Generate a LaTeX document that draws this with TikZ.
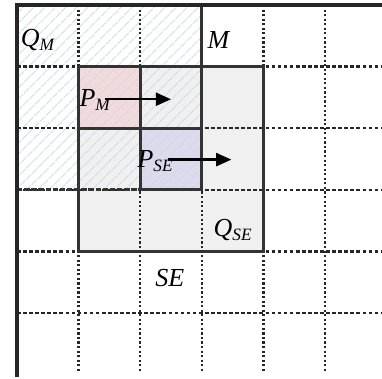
\documentclass[tikz,border=0pt]{standalone}
\usepackage{fontspec}
\setmainfont{Liberation Serif}
\usepackage{xcolor}
\usepackage{tikz}
\usetikzlibrary{positioning, arrows.meta, patterns.meta}

\definecolor{hatchblue}{RGB}{205,216,234}
\definecolor{pmpink}{RGB}{243,218,218}
\definecolor{pselav}{RGB}{222,218,238}
\definecolor{qsegray}{RGB}{240,240,240}
\newcommand{\blocklbl}[2]{{\itshape #1\textsubscript{#2}}}

\begin{document}
\begin{tikzpicture}[x=1cm, y=-1cm,
    gridv/.style={line width=1.1pt, dash pattern=on 1pt off 1.1pt, black!85},
    gridh/.style={line width=1.1pt, dash pattern=on 1.7pt off 1.1pt, black!85},
    blockbox/.style={line width=1.3pt, black!80},
    movearrow/.style={line width=1.1pt, -{Triangle[length=7pt, width=6pt]}},
    lbl/.style={inner sep=1pt, font=\large}]
    \useasboundingbox (-0.276,-0.081) rectangle (5.925,6.071);
    % Fills
    \fill[qsegray] (1,1) rectangle (4,4);
    \fill[pmpink] (1,1) rectangle (2,2);
    \fill[pselav] (2,2) rectangle (3,3);
    \fill[pattern={Lines[angle=45, distance=4pt, line width=0.5pt]}, pattern color=hatchblue] (0,0) rectangle (3,3);
    % Dotted grid
    \foreach \x in {1,...,5} {\draw[gridv] (\x,0) -- (\x,5.96);}
    \foreach \y in {1,...,5} {\draw[gridh] (0,\y) -- (5.925,\y);}
    % Block borders
    \draw[blockbox] (3,0) -- (3,3);
    \draw[blockbox, dash pattern=on 2.5pt off 0.8pt] (0,3) -- (3,3);
    \draw[blockbox] (1,1) rectangle (4,4);
    \draw[blockbox] (1,1) rectangle (2,2);
    \draw[blockbox] (2,2) rectangle (3,3);
    % Frame
    \draw[line width=1.4pt, black!85] (5.925,0) -- (0,0) -- (0,6.04);
    % Labels
    \node[lbl] (qm) at (0.34,0.57) {\blocklbl{Q}{M}};
    \node[lbl] (m) at (3.27,0.57) {\itshape M};
    \node[lbl] (pm) at (1.27,1.54) {\blocklbl{P}{M}};
    \node[lbl] (pse) at (2.25,2.53) {\blocklbl{P}{SE}};
    \node[lbl] (qse) at (3.51,3.65) {\blocklbl{Q}{SE}};
    \node[lbl] (se) at (2.48,4.43) {\itshape SE};
    % Moves
    \coordinate (pmtip) at (2.5,1.53);
    \coordinate (psetip) at (3.48,2.51);
    \draw[movearrow] ([xshift=-4pt]pm.east |- pmtip) -- (pmtip);
    \draw[movearrow] ([xshift=-4pt]pse.east |- psetip) -- (psetip);
\end{tikzpicture}
\end{document}
